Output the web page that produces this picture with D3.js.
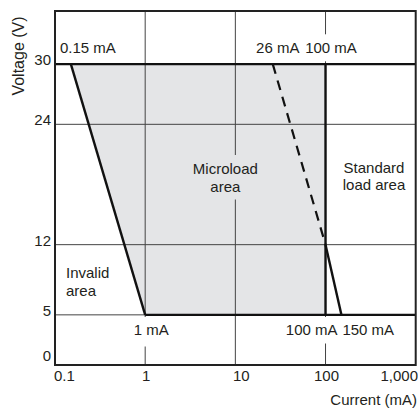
<!DOCTYPE html>
<html>
<head>
<meta charset="utf-8">
<script src="https://cdn.jsdelivr.net/npm/d3@7"></script>
<style>
  body { margin: 0; background: #fff; }
  svg { display: block; font-family: "Liberation Sans", Arial, sans-serif; }
</style>
</head>
<body>
<svg id="chart" width="418" height="409"></svg>
<script>
// ---------------- DATA ----------------
const xTicks = [0.1, 1, 10, 100, 1000];
const xTickLabels = ["0.1", "1", "10", "100", "1,000"];
const yTicks = [0, 5, 12, 24, 30];
const yGrid = [5, 12, 24];
const xGrid = [1, 10, 100];

// microload region (current mA, voltage V)
const microloadArea = [[0.15, 30], [100, 30], [100, 5], [1, 5]];
// boundary lines
const minCurrentLine = [[0.15, 30], [1, 5]];
const maxDashedLine = [[26, 30], [100, 12]];
const maxSolidLine = [[100, 12], [150, 5]];
const topVoltageLine = [[0.1, 30], [1000, 30]];
const bottomVoltageLine = [[1, 5], [1000, 5]];
const standardEdgeLine = [[100, 30], [100, 5]];

const svg = d3.select("#chart");

// ---------------- SCALES ----------------
const plotLeft = 55, plotRight = 415.7, plotTop = 11, plotBottom = 365;
const x = d3.scaleLog().domain([0.1, 1000]).range([plotLeft, plotRight]);
const y = d3.scaleLinear().domain([0, 35.3]).range([plotBottom, plotTop]);

const line = d3.line().x(d => x(d[0])).y(d => y(d[1]));

const gray = "#e4e5e7";

// ---------------- MICROLOAD FILL ----------------
svg.append("path")
  .attr("d", line(microloadArea) + "Z")
  .attr("fill", gray);

// ---------------- GRID ----------------
svg.selectAll(".vgrid")
  .data(xGrid)
  .enter()
  .append("line")
  .attr("x1", d => x(d)).attr("x2", d => x(d))
  .attr("y1", plotTop).attr("y2", plotBottom)
  .attr("stroke", "#444")
  .attr("stroke-width", 1);

svg.selectAll(".hgrid")
  .data(yGrid)
  .enter()
  .append("line")
  .attr("x1", plotLeft).attr("x2", plotRight)
  .attr("y1", d => y(d)).attr("y2", d => y(d))
  .attr("stroke", "#444")
  .attr("stroke-width", 1);

// ---------------- LABELS WITH BACKGROUND ----------------
function label(lines, lx, ly, anchor, bg, padTop, padBottom) {
  const g = svg.append("g");
  const rect = g.append("rect").attr("fill", bg || "none");
  const t = g.append("text")
    .attr("x", lx)
    .attr("y", ly)
    .attr("text-anchor", anchor)
    .attr("font-size", 15)
    .attr("fill", "#231f20");
  lines.forEach((s, i) => {
    t.append("tspan").attr("x", lx).attr("dy", i === 0 ? 0 : 17.5).text(s);
  });
  if (bg) {
    const b = t.node().getBBox();
    rect.attr("x", b.x - 2).attr("y", b.y - padTop)
      .attr("width", b.width + 4).attr("height", b.height + padTop + padBottom);
  }
}

label(["0.15 mA"], x(0.1) + 5, 53, "start", "#fff", 4, 4);
label(["26 mA"], x(26) + 5, 53.3, "middle", "#fff", 5, 5);
label(["100 mA"], x(100) + 5.5, 53.3, "middle", "#fff", 5, 5);
label(["1 mA"], x(1) + 6, 335, "middle", "#fff", 4, 8.5);
label(["100 mA"], x(100) + 12, 335, "end", "#fff", 4, 5.5);
label(["150 mA"], x(150) + 1, 335, "start", null);
label(["Microload", "area"], x(10) - 10, 174, "middle", gray, 5, 5);
label(["Standard", "load area"], 374, 172.5, "middle", null);
label(["Invalid", "area"], x(0.1) + 11, 278, "start", null);

// ---------------- THICK BOUNDARY LINES ----------------
[topVoltageLine, bottomVoltageLine, standardEdgeLine, minCurrentLine, maxSolidLine].forEach(pts => {
  svg.append("path")
    .attr("d", line(pts))
    .attr("fill", "none")
    .attr("stroke", "#111")
    .attr("stroke-width", 2.4);
});

svg.append("path")
  .attr("d", line(maxDashedLine))
  .attr("fill", "none")
  .attr("stroke", "#111")
  .attr("stroke-width", 2.2)
  .attr("stroke-dasharray", "10,7");

// ---------------- FRAME ----------------
svg.append("rect")
  .attr("x", plotLeft).attr("y", plotTop)
  .attr("width", plotRight - plotLeft).attr("height", plotBottom - plotTop)
  .attr("fill", "none")
  .attr("stroke", "#222")
  .attr("stroke-width", 2);

// ---------------- AXIS LABELS ----------------
svg.selectAll(".ytick")
  .data(yTicks)
  .enter()
  .append("text")
  .attr("x", plotLeft - 4)
  .attr("y", d => Math.min(y(d) + 1, plotBottom - 4))
  .attr("text-anchor", "end")
  .attr("font-size", 15)
  .attr("fill", "#231f20")
  .text(d => d);

svg.selectAll(".xtick")
  .data(xTicks)
  .enter()
  .append("text")
  .attr("x", (d, i) => i === 0 ? plotLeft - 1 : i === xTicks.length - 1 ? 418 : x(d) + (d === 10 ? 6 : 1))
  .attr("y", 381)
  .attr("text-anchor", (d, i) => i === 0 ? "start" : i === xTicks.length - 1 ? "end" : "middle")
  .attr("font-size", 15)
  .attr("fill", "#231f20")
  .text((d, i) => xTickLabels[i]);

svg.append("text")
  .attr("transform", "translate(23.5,56) rotate(-90)")
  .attr("text-anchor", "middle")
  .attr("font-size", 16)
  .attr("fill", "#231f20")
  .text("Voltage (V)");

svg.append("text")
  .attr("x", 417)
  .attr("y", 405)
  .attr("text-anchor", "end")
  .attr("font-size", 15)
  .attr("fill", "#231f20")
  .text("Current (mA)");
</script>
</body>
</html>
